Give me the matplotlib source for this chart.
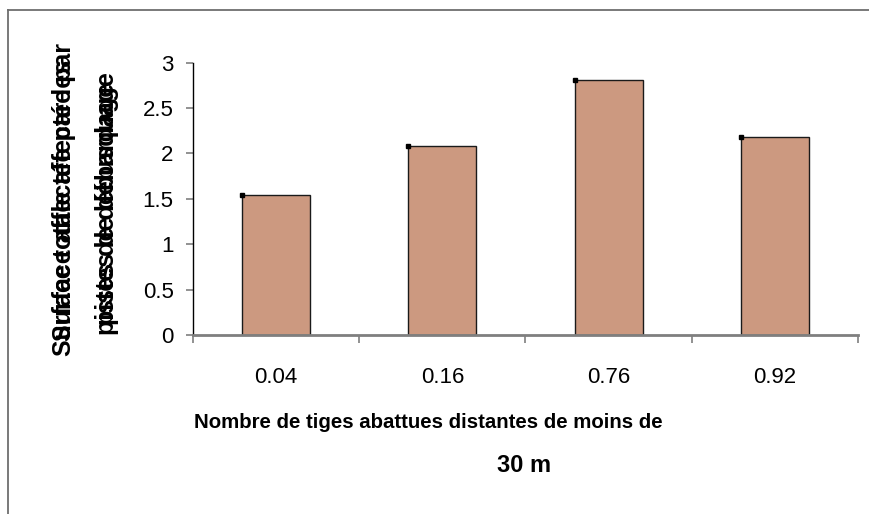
import matplotlib
matplotlib.use("Agg")
import matplotlib.pyplot as plt
from matplotlib.lines import Line2D
from matplotlib import font_manager

# Data
categories = ["0.04", "0.16", "0.76", "0.92"]
surface = [1.54, 2.08, 2.81, 2.18]
yticks = [0, 0.5, 1, 1.5, 2, 2.5, 3]
ytick_labels = ["0", "0.5", "1", "1.5", "2", "2.5", "3"]

xlabel_line1 = "Nombre de tiges abattues distantes de moins de"
xlabel_line2 = "30 m"
ylabel_a = ["Surface affectée par les", "pistes de débardage"]
ylabel_b = ["Surface totale affectée par", "pistes de débusquage"]

W, H = 870, 514
installed = {f.name for f in font_manager.fontManager.ttflist}
if "Liberation Sans Narrow" in installed:
    title_family, title_size = "Liberation Sans Narrow", 17
else:
    title_family, title_size = "Liberation Sans", 14.7

fig = plt.figure(figsize=(W / 100, H / 100), dpi=100)
fig.patch.set_facecolor("white")

def fx(px):
    return px / W

def fy(py):
    return 1 - py / H

ax = fig.add_axes([fx(193), fy(335), fx(858) - fx(193), fy(62.7) - fy(335)])

x = list(range(len(categories)))
bar_w = 0.41
ax.bar(x, surface, width=bar_w, color="#CC9980", edgecolor="#1a1a1a",
       linewidth=1.0, zorder=2)
# small corner markers at the top-left of each bar
ax.plot([xi - bar_w / 2 for xi in x], surface, "s", ms=2.2, color="black",
        zorder=3, linestyle="none")

ax.set_xlim(-0.5, len(categories) - 0.5)
ax.set_ylim(0, 3)
ax.set_yticks(yticks)
ax.set_yticklabels(ytick_labels, fontsize=16, family="Liberation Sans")
ax.set_xticks(x)
ax.set_xticklabels(categories, fontsize=16, family="Liberation Sans")
ax.set_xticks([i - 0.5 for i in range(len(categories) + 1)], minor=True)

ax.tick_params(axis="y", direction="out", length=5, width=1.2,
               color="#7f7f7f", pad=9)
ax.tick_params(axis="x", which="major", length=0, pad=23)
ax.tick_params(axis="x", which="minor", direction="out", length=6,
               width=1.2, color="#7f7f7f")

for side in ("top", "right"):
    ax.spines[side].set_visible(False)
ax.spines["left"].set_color("black")
ax.spines["left"].set_linewidth(1.0)
ax.spines["bottom"].set_color("#7f7f7f")
ax.spines["bottom"].set_linewidth(2.0)

# x axis title (two lines)
fig.text(fx(428), fy(423), xlabel_line1, ha="center", va="center",
         fontsize=title_size, fontweight="bold", family=title_family)
fig.text(fx(524), fy(466), xlabel_line2, ha="center", va="center",
         fontsize=17, fontweight="bold", family="Liberation Sans")

# y axis titles (drawn on top of one another)
for lines in (ylabel_a, ylabel_b):
    fig.text(fx(64), fy(200), lines[0], rotation=90, ha="center", va="center",
             fontsize=18, fontweight="bold", family="Liberation Sans")
    fig.text(fx(107), fy(203.5), lines[1], rotation=90, ha="center", va="center",
             fontsize=18, fontweight="bold", family="Liberation Sans")

# outer frame
fig.add_artist(Line2D([fx(8), fx(8)], [fy(10), 0], transform=fig.transFigure,
                      color="#6e6e6e", linewidth=1.3))
fig.add_artist(Line2D([fx(8), 1], [fy(10), fy(10)], transform=fig.transFigure,
                      color="#6e6e6e", linewidth=1.3))

fig.savefig("out.png", dpi=100, facecolor="white")
